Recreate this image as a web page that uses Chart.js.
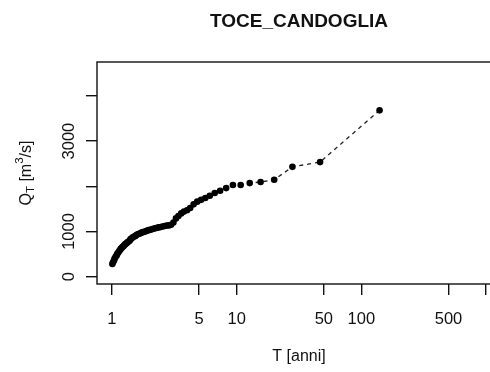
<!DOCTYPE html>
<html>
<head>
<meta charset="utf-8">
<script src="https://cdn.jsdelivr.net/npm/chart.js@4/dist/chart.umd.min.js"></script>
<style>
  html, body { margin: 0; padding: 0; background: #fff; overflow: hidden; }
  #wrap { width: 505px; height: 372px; }
</style>
</head>
<body>
<div id="wrap"><canvas id="c" width="505" height="372"></canvas></div>
<script>
// Return period T [anni] (plotting positions) and discharge Q_T [m3/s]
const returnPeriods = [
  140, 46.67, 28, 20, 15.56, 12.73, 10.77, 9.33, 8.24, 7.37,
  6.67, 6.09, 5.6, 5.19, 4.83, 4.52, 4.24, 4.0, 3.78, 3.59,
  3.41, 3.26, 3.11, 2.98, 2.86, 2.75, 2.64, 2.55, 2.46, 2.37,
  2.30, 2.22, 2.15, 2.09, 2.03, 1.97, 1.92, 1.87, 1.82, 1.77,
  1.73, 1.69, 1.65, 1.61, 1.57, 1.54, 1.51, 1.47, 1.44, 1.41,
  1.39, 1.36, 1.33, 1.31, 1.28, 1.26, 1.24, 1.22, 1.20, 1.18,
  1.16, 1.14, 1.12, 1.10, 1.09, 1.07, 1.05, 1.04, 1.02, 1.007
];
const discharges = [
  3680, 2535, 2430, 2145, 2095, 2070, 2030, 2030, 1960, 1900,
  1850, 1790, 1740, 1700, 1660, 1600, 1520, 1470, 1440, 1400,
  1340, 1290, 1200, 1150, 1135, 1130, 1120, 1110, 1100, 1090,
  1080, 1070, 1060, 1050, 1040, 1030, 1020, 1005, 995, 985,
  975, 960, 950, 940, 920, 900, 890, 870, 850, 830,
  800, 780, 760, 740, 720, 700, 680, 660, 640, 620,
  590, 560, 530, 500, 470, 440, 400, 360, 320, 280
];
const xTicks = [1, 5, 10, 50, 100, 500, 1000];
const xTickLabels = ['1', '5', '10', '50', '100', '500', ''];
const yTicks = [0, 1000, 2000, 3000, 4000];
const yTickLabels = ['0', '1000', '', '3000', ''];

const FONT = '"Liberation Sans", Arial, sans-serif';

// R-style frame, tick labels, titles
const rStyle = {
  id: 'rStyle',
  afterDraw(chart) {
    const { ctx, chartArea: a, scales } = chart;
    ctx.save();
    ctx.strokeStyle = '#111';
    ctx.lineWidth = 1.4;
    ctx.strokeRect(a.left, a.top, a.right - a.left, a.bottom - a.top);

    ctx.fillStyle = '#111';
    ctx.font = '16.5px ' + FONT;
    ctx.textAlign = 'center';
    ctx.textBaseline = 'middle';
    xTicks.forEach((v, i) => {
      ctx.fillText(xTickLabels[i], scales.x.getPixelForValue(v), 319);
    });
    yTicks.forEach((v, i) => {
      ctx.save();
      ctx.translate(69, scales.y.getPixelForValue(v));
      ctx.rotate(-Math.PI / 2);
      ctx.fillText(yTickLabels[i], 0, 0);
      ctx.restore();
    });

    const cx = (a.left + a.right) / 2;
    const cy = (a.top + a.bottom) / 2;
    ctx.font = '16px ' + FONT;
    ctx.fillText('T [anni]', cx, 357);

    // Q_T [m^3/s]
    ctx.save();
    ctx.translate(27, cy);
    ctx.rotate(-Math.PI / 2);
    ctx.textAlign = 'left';
    const big = '16px ' + FONT, small = '11.5px ' + FONT;
    const parts = [
      ['Q', big, 0], ['T', small, 4], [' [m', big, 0], ['3', small, -7], ['/s]', big, 0]
    ];
    let w = 0;
    parts.forEach(p => { ctx.font = p[1]; w += ctx.measureText(p[0]).width; });
    let x = -w / 2;
    parts.forEach(p => {
      ctx.font = p[1];
      ctx.fillText(p[0], x, p[2]);
      x += ctx.measureText(p[0]).width;
    });
    ctx.restore();

    ctx.font = 'bold 19px ' + FONT;
    ctx.textAlign = 'center';
    ctx.fillText('TOCE_CANDOGLIA', cx, 22);
    ctx.restore();
  }
};

new Chart(document.getElementById('c'), {
  type: 'line',
  data: {
    datasets: [{
      data: returnPeriods.map((t, i) => ({ x: t, y: discharges[i] })),
      borderColor: '#222',
      borderWidth: 1.3,
      borderDash: [4, 4],
      pointRadius: 3.3,
      pointBackgroundColor: '#000',
      pointBorderWidth: 0,
      tension: 0,
      fill: false
    }]
  },
  options: {
    responsive: false,
    animation: false,
    layout: { padding: { top: 62, right: 3, left: 0, bottom: 0 } },
    plugins: { legend: { display: false }, title: { display: false }, tooltip: { enabled: false } },
    scales: {
      x: {
        type: 'logarithmic',
        min: 0.7586,
        max: 1318,
        afterBuildTicks: s => { s.ticks = xTicks.map(v => ({ value: v })); },
        afterFit: s => { s.height = 88; },
        ticks: { display: false },
        border: { display: false },
        grid: { drawOnChartArea: false, drawTicks: true, tickLength: 11, color: '#111', lineWidth: 1.4 }
      },
      y: {
        type: 'linear',
        min: -162,
        max: 4750,
        afterBuildTicks: s => { s.ticks = yTicks.map(v => ({ value: v })); },
        afterFit: s => { s.width = 97; },
        ticks: { display: false },
        border: { display: false },
        grid: { drawOnChartArea: false, drawTicks: true, tickLength: 11, color: '#111', lineWidth: 1.4 }
      }
    }
  },
  plugins: [rStyle]
});
</script>
</body>
</html>
